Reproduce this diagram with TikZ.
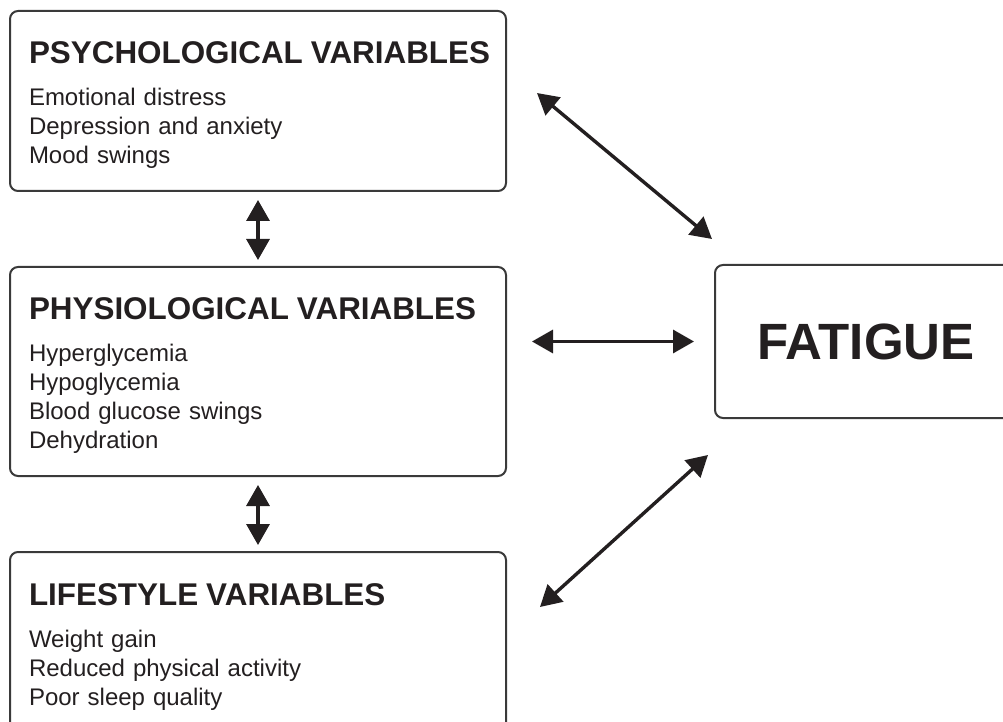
\documentclass[tikz,border=0pt]{standalone}
\usepackage{fontspec}
\setmainfont{Liberation Sans}
\usepackage{tikz}
\usepackage{xcolor}
\usetikzlibrary{arrows.meta, positioning, calc}
\setlength{\parindent}{0pt}
\definecolor{inkdark}{HTML}{231F20}
\definecolor{boxline}{HTML}{3A3A3A}
\newcommand{\vartitle}[1]{\rule{0pt}{26.5pt}\mbox{\fontsize{15.7}{19}\selectfont\bfseries #1}\par\vspace{6.5pt}}

\begin{document}
\begin{tikzpicture}[x=0.5pt, y=-0.5pt,
    varbox/.style={draw=boxline, line width=1pt, rounded corners=4pt, anchor=north west,
        text width=229pt, inner xsep=9.5pt, inner ysep=0pt,
        execute at end node={\rule[-13.5pt]{0pt}{0pt}},
        align=left, text=inkdark, font=\fontsize{12}{14.5}\selectfont},
    endbox/.style={draw=boxline, line width=1pt, rounded corners=4pt,
        minimum width=151pt, minimum height=76.5pt, text=inkdark,
        font=\fontsize{25.5}{30}\selectfont\bfseries},
    twoway/.style={{Triangle[length=10.5pt,width=11.5pt]}-{Triangle[length=10.5pt,width=11.5pt]},
        line width=1.7pt, draw=inkdark}]
\useasboundingbox (0,0) rectangle (1003,722);
\clip (0,0) rectangle (1003,722);
% variable boxes
\node[varbox] (psych) at (9,10) {\vartitle{PSYCHOLOGICAL VARIABLES}Emotional distress\\Depression and anxiety\\Mood swings};
\node[varbox] (physio) at (9,266) {\vartitle{PHYSIOLOGICAL VARIABLES}Hyperglycemia\\Hypoglycemia\\Blood glucose swings\\Dehydration};
\node[varbox] (life) at (9,551) {\vartitle{LIFESTYLE VARIABLES}Weight gain\\Reduced physical activity\\Poor sleep quality};
\node[endbox] (fatigue) at (866,341.5) {FATIGUE};
% free ends of the slanted arrows
\coordinate (psychtip) at ($(psych.north east)+(30,83)$);
\coordinate (fatiguetop) at ($(fatigue.north west)+(-2,-25)$);
\coordinate (lifetip) at ($(life.north east)+(33,56)$);
\coordinate (fatiguelow) at ($(fatigue.south west)+(-6,36)$);
% arrows
\draw[twoway, shorten <=4pt, shorten >=3pt] (psych.south) -- (physio.north);
\draw[twoway, shorten <=4pt, shorten >=3pt] (physio.south) -- (life.north);
\draw[twoway, shorten <=12.5pt, shorten >=10pt] (physio.east |- fatigue.west) -- (fatigue.west);
\draw[twoway] (psychtip) -- (fatiguetop);
\draw[twoway] (lifetip) -- (fatiguelow);
\end{tikzpicture}
\end{document}
